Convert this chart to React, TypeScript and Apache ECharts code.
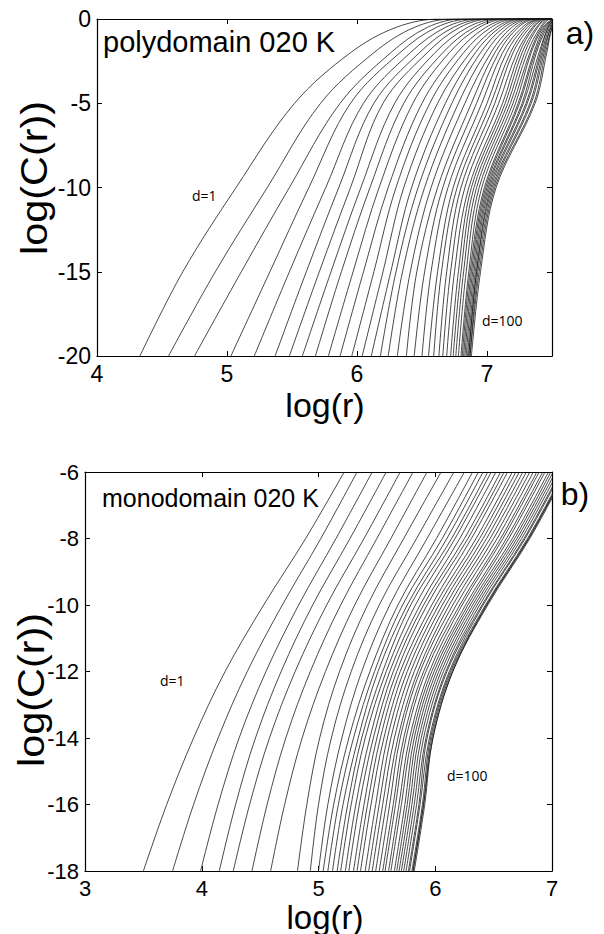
import React, { useEffect, useRef } from "react";
import * as echarts from "echarts";

// ---------- Panel a) polydomain 020 K ----------
const A_X_MIN = 4;
const A_X_MAX = 7.5;
const A_Y_MIN = -20;
const A_Y_MAX = 0;
// y levels at which the x position of each curve was read
const A_LEVELS = [-20, -15, -10, -5, -2, -0.5, 0];
const A_X_M20 = [4.33, 4.55, 4.75, 5.03, 5.21, 5.37, 5.48, 5.58, 5.68, 5.78, 5.87, 5.96, 6.04, 6.11, 6.18, 6.24, 6.31, 6.38, 6.44, 6.5, 6.55, 6.59, 6.63, 6.66, 6.69, 6.72, 6.74, 6.76, 6.78, 6.8, 6.81, 6.82, 6.83, 6.84, 6.85, 6.86, 6.86, 6.87, 6.87, 6.88];
const A_X_M15 = [4.66, 4.91, 5.11, 5.33, 5.48, 5.61, 5.71, 5.8, 5.88, 5.97, 6.05, 6.13, 6.2, 6.26, 6.3, 6.35, 6.41, 6.46, 6.52, 6.57, 6.62, 6.65, 6.69, 6.72, 6.75, 6.78, 6.8, 6.82, 6.84, 6.86, 6.87, 6.88, 6.89, 6.9, 6.91, 6.92, 6.92, 6.93, 6.94, 6.95];
const A_X_M10 = [5.07, 5.31, 5.48, 5.63, 5.76, 5.86, 5.95, 6.03, 6.1, 6.17, 6.24, 6.3, 6.36, 6.42, 6.47, 6.52, 6.57, 6.62, 6.66, 6.7, 6.74, 6.77, 6.8, 6.83, 6.86, 6.88, 6.9, 6.92, 6.94, 6.96, 6.98, 6.99, 7.0, 7.01, 7.02, 7.03, 7.04, 7.05, 7.06, 7.07];
const A_X_M5 = [5.52, 5.72, 5.87, 5.95, 6.05, 6.13, 6.2, 6.29, 6.36, 6.43, 6.5, 6.56, 6.62, 6.68, 6.73, 6.78, 6.83, 6.88, 6.92, 6.96, 7.0, 7.03, 7.06, 7.09, 7.12, 7.14, 7.16, 7.18, 7.2, 7.22, 7.24, 7.25, 7.27, 7.28, 7.3, 7.31, 7.33, 7.34, 7.36, 7.37];
const A_X_M2 = [5.95, 6.13, 6.26, 6.33, 6.41, 6.48, 6.54, 6.6, 6.66, 6.71, 6.77, 6.82, 6.87, 6.91, 6.95, 6.99, 7.03, 7.06, 7.09, 7.12, 7.15, 7.18, 7.2, 7.23, 7.25, 7.27, 7.29, 7.31, 7.33, 7.34, 7.36, 7.37, 7.38, 7.4, 7.41, 7.42, 7.43, 7.44, 7.45, 7.46];
const A_X_M05 = [6.3, 6.44, 6.54, 6.61, 6.68, 6.74, 6.79, 6.85, 6.9, 6.94, 6.99, 7.03, 7.07, 7.1, 7.13, 7.16, 7.19, 7.22, 7.24, 7.27, 7.29, 7.31, 7.33, 7.35, 7.36, 7.38, 7.39, 7.41, 7.42, 7.43, 7.44, 7.45, 7.46, 7.47, 7.47, 7.48, 7.49, 7.49, 7.5, 7.5];
const A_X_0 = [6.64, 6.74, 6.81, 6.88, 6.94, 6.99, 7.03, 7.08, 7.12, 7.15, 7.19, 7.22, 7.25, 7.27, 7.3, 7.32, 7.34, 7.36, 7.38, 7.4, 7.41, 7.42, 7.43, 7.44, 7.45, 7.46, 7.47, 7.48, 7.49, 7.5, 7.51, 7.51, 7.51, 7.52, 7.52, 7.52, 7.53, 7.53, 7.53, 7.54];

// ---------- Panel b) monodomain 020 K ----------
const B_X_MIN = 3;
const B_X_MAX = 7;
const B_Y_MIN = -18;
const B_Y_MAX = -6;
const B_LEVELS = [-18, -16, -14, -12, -10, -8, -6];
const B_X_M18 = [3.5, 3.75, 3.99, 4.15, 4.27, 4.43, 4.59, 4.82, 4.93, 5.0, 5.04, 5.08, 5.12, 5.16, 5.19, 5.23, 5.26, 5.3, 5.33, 5.36, 5.4, 5.43, 5.46, 5.49, 5.52, 5.55, 5.57, 5.6, 5.62, 5.65, 5.67, 5.69, 5.71, 5.73, 5.75, 5.77, 5.78, 5.8, 5.81, 5.81, 5.82];
const B_X_M16 = [3.7, 3.93, 4.14, 4.29, 4.41, 4.56, 4.71, 4.9, 5.0, 5.08, 5.13, 5.17, 5.21, 5.25, 5.28, 5.32, 5.35, 5.39, 5.42, 5.45, 5.49, 5.52, 5.55, 5.58, 5.61, 5.64, 5.66, 5.69, 5.71, 5.74, 5.76, 5.78, 5.8, 5.82, 5.84, 5.86, 5.87, 5.89, 5.9, 5.9, 5.91];
const B_X_M14 = [3.93, 4.14, 4.32, 4.46, 4.58, 4.72, 4.86, 5.01, 5.11, 5.2, 5.26, 5.3, 5.34, 5.37, 5.4, 5.44, 5.47, 5.5, 5.53, 5.56, 5.59, 5.62, 5.65, 5.68, 5.7, 5.73, 5.75, 5.78, 5.8, 5.82, 5.84, 5.86, 5.88, 5.9, 5.92, 5.93, 5.95, 5.96, 5.97, 5.98, 5.98];
const B_X_M12 = [4.2, 4.39, 4.55, 4.68, 4.8, 4.93, 5.06, 5.18, 5.28, 5.37, 5.44, 5.48, 5.51, 5.55, 5.58, 5.61, 5.64, 5.67, 5.7, 5.73, 5.76, 5.79, 5.82, 5.85, 5.87, 5.9, 5.92, 5.95, 5.97, 5.99, 6.01, 6.03, 6.05, 6.07, 6.09, 6.1, 6.12, 6.13, 6.14, 6.15, 6.15];
const B_X_M10 = [4.53, 4.69, 4.83, 4.95, 5.07, 5.19, 5.31, 5.42, 5.52, 5.61, 5.68, 5.72, 5.76, 5.79, 5.83, 5.87, 5.9, 5.93, 5.97, 6.0, 6.03, 6.06, 6.09, 6.12, 6.15, 6.18, 6.21, 6.23, 6.26, 6.28, 6.3, 6.32, 6.34, 6.36, 6.38, 6.4, 6.41, 6.43, 6.44, 6.44, 6.45];
const B_X_M8 = [4.89, 5.02, 5.15, 5.27, 5.39, 5.5, 5.62, 5.73, 5.84, 5.93, 6.01, 6.06, 6.1, 6.14, 6.17, 6.21, 6.25, 6.28, 6.31, 6.35, 6.38, 6.41, 6.44, 6.47, 6.5, 6.53, 6.56, 6.58, 6.61, 6.63, 6.66, 6.68, 6.7, 6.72, 6.74, 6.76, 6.77, 6.79, 6.8, 6.8, 6.81];
const B_X_M6 = [5.22, 5.33, 5.46, 5.58, 5.7, 5.81, 5.93, 6.05, 6.16, 6.25, 6.32, 6.37, 6.41, 6.45, 6.48, 6.52, 6.56, 6.59, 6.62, 6.66, 6.69, 6.72, 6.75, 6.78, 6.81, 6.84, 6.87, 6.89, 6.92, 6.94, 6.97, 6.99, 7.01, 7.03, 7.05, 7.07, 7.08, 7.1, 7.11, 7.11, 7.12];

const FONT = "'Liberation Sans', Arial, Helvetica, sans-serif";
const SMALL_FONT = "'Open Sans', 'Noto Sans', sans-serif";
const LINE_COLOR = "#1a1a1a";

function buildCurves(
  levels: number[],
  cols: number[][],
  xAxisIndex: number,
  yAxisIndex: number,
  tail?: [number, number]
) {
  const n = Math.min(...cols.map((c) => c.length));
  const out: any[] = [];
  for (let i = 0; i < n; i++) {
    const pts: number[][] = levels.map((y, j) => [cols[j][i], y]);
    if (tail && pts[pts.length - 1][0] < tail[0]) pts.push([tail[0], tail[1]]);
    out.push({
      type: "line",
      xAxisIndex,
      yAxisIndex,
      data: pts,
      showSymbol: false,
      symbol: "none",
      smooth: 0.35,
      clip: true,
      silent: true,
      lineStyle: { color: LINE_COLOR, width: 0.8 },
    });
  }
  return out;
}

function axisPair(
  kind: "x" | "y",
  gridIndex: number,
  min: number,
  max: number,
  interval: number,
  labelSize: number
) {
  const common = {
    gridIndex,
    type: "value",
    min,
    max,
    interval,
    splitLine: { show: false },
    axisLine: { show: true, onZero: false, lineStyle: { color: "#000", width: 1.2 } },
    axisTick: { show: true, inside: true, length: 5, lineStyle: { color: "#000", width: 1 } },
  };
  const main = {
    ...common,
    position: kind === "x" ? "bottom" : "left",
    axisLabel: {
      show: true,
      color: "#000",
      fontSize: labelSize,
      fontFamily: FONT,
      margin: 6,
      showMaxLabel: kind === "x" ? max % interval === 0 : true,
    },
  };
  const mirror = {
    ...common,
    position: kind === "x" ? "top" : "right",
    axisLabel: { show: false },
  };
  return [main, mirror];
}

function text(x: number, y: number, t: string, font: string, extra: any = {}, style: any = {}) {
  return {
    type: "text",
    x,
    y,
    silent: true,
    ...extra,
    style: { text: t, font, fill: "#000", verticalAlign: "middle", ...style },
  };
}

export default function App() {
  const ref = useRef<HTMLDivElement>(null);
  useEffect(() => {
    if (!ref.current) return;
    const chart = echarts.init(ref.current, undefined, { renderer: "svg" });
    const series = [
      ...buildCurves(A_LEVELS, [A_X_M20, A_X_M15, A_X_M10, A_X_M5, A_X_M2, A_X_M05, A_X_0], 0, 0, [A_X_MAX, A_Y_MAX]),
      ...buildCurves(B_LEVELS, [B_X_M18, B_X_M16, B_X_M14, B_X_M12, B_X_M10, B_X_M8, B_X_M6], 2, 2),
    ];
    const option: any = {
      animation: false,
      backgroundColor: "#fff",
      grid: [
        { left: 97, top: 19, width: 455, height: 337 },
        { left: 85, top: 472, width: 467, height: 399 },
      ],
      xAxis: [
        ...axisPair("x", 0, A_X_MIN, A_X_MAX, 1, 23),
        ...axisPair("x", 1, B_X_MIN, B_X_MAX, 1, 22),
      ],
      yAxis: [
        ...axisPair("y", 0, A_Y_MIN, A_Y_MAX, 5, 23),
        ...axisPair("y", 1, B_Y_MIN, B_Y_MAX, 2, 22),
      ],
      series,
      graphic: [
        text(103, 42, "polydomain 020 K", `29px ${FONT}`),
        text(580, 33, "a)", `32px ${FONT}`, {}, { align: "center" }),
        text(192, 195, "d=1", `14px ${SMALL_FONT}`),
        text(482, 320, "d=100", `14px ${SMALL_FONT}`),
        text(34, 178, "log(C(r))", `37px ${FONT}`, { rotation: Math.PI / 2, scaleX: 1.12 }, { align: "center" }),
        text(325, 405, "log(r)", `34px ${FONT}`, {}, { align: "center" }),

        text(102, 498, "monodomain 020 K", `25px ${FONT}`),
        text(575, 494, "b)", `32px ${FONT}`, {}, { align: "center" }),
        text(160, 680, "d=1", `14px ${SMALL_FONT}`),
        text(447, 775, "d=100", `14px ${SMALL_FONT}`),
        text(31, 690, "log(C(r))", `37px ${FONT}`, { rotation: Math.PI / 2, scaleX: 1.12 }, { align: "center" }),
        text(325, 917, "log(r)", `33px ${FONT}`, {}, { align: "center" }),
      ],
    };
    chart.setOption(option);
    return () => chart.dispose();
  }, []);
  return (
    <div
      ref={ref}
      style={{ position: "fixed", left: 0, top: 0, width: 604, height: 934, background: "#fff" }}
    />
  );
}
